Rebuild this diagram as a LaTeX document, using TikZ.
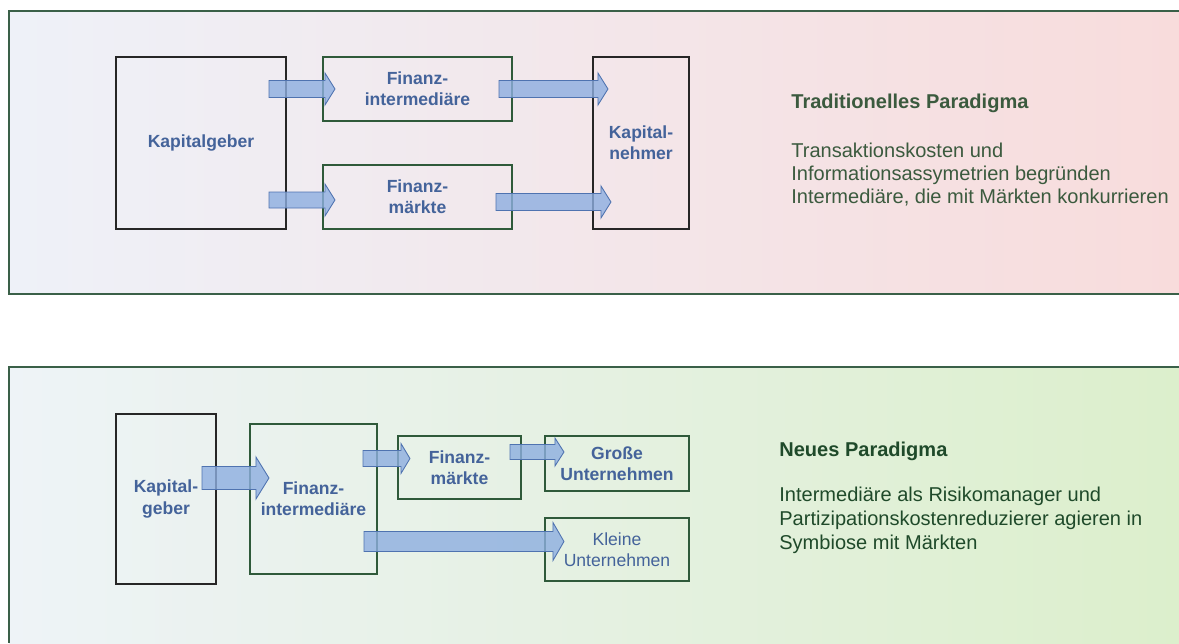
\documentclass[tikz,border=0pt]{standalone}
\usepackage{fontspec}
\setmainfont{Liberation Sans}
\usetikzlibrary{calc}

\definecolor{labelblue}{HTML}{44639A}
\definecolor{boxgreen}{HTML}{2F5A3A}
\definecolor{framegreen}{HTML}{3A6048}
\definecolor{oldtext}{HTML}{3B5A3E}
\definecolor{newtext}{HTML}{1F4A2A}
\definecolor{arrowfill}{HTML}{8DAEE0}
\definecolor{arrowline}{HTML}{4F73B0}
\definecolor{oldleft}{HTML}{EEF1F8}
\definecolor{oldright}{HTML}{F8DCDC}
\definecolor{newleft}{HTML}{EEF3F7}
\definecolor{newright}{HTML}{DCEFCC}

\newlength{\pxu}
\setlength{\pxu}{0.02cm}

% block arrow: from, to, shaft half, head half, head length (pixels)
\newcommand{\flowarrow}[5]{%
  \path[flow] let \p1=#1, \p2=#2 in
    (\x1,\y1+#3*\pxu) -- (\x2-#5*\pxu,\y1+#3*\pxu) -- (\x2-#5*\pxu,\y1+#4*\pxu)
    -- (\x2,\y1) -- (\x2-#5*\pxu,\y1-#4*\pxu) -- (\x2-#5*\pxu,\y1-#3*\pxu)
    -- (\x1,\y1-#3*\pxu) -- cycle;}

\begin{document}
\begin{tikzpicture}[x=0.02cm, y=-0.02cm,
  box/.style={draw=boxgreen, line width=1.2pt, inner sep=0pt, align=center,
    text=labelblue, font=\bfseries\fontsize{10}{12}\selectfont},
  endbox/.style={box, draw=black!85},
  flow/.style={fill=arrowfill, fill opacity=0.8, draw=arrowline, line width=0.5pt}]
\useasboundingbox (0,0) rectangle (1179,643);

% panels
\shade[left color=oldleft, right color=oldright] (9,11) rectangle (1179,294);
\draw[framegreen, line width=0.8pt] (1179,11) -- (9,11) -- (9,294) -- (1179,294);
\shade[left color=newleft, right color=newright] (9,367) rectangle (1179,643);
\draw[framegreen, line width=0.8pt] (1179,367) -- (9,367) -- (9,643);

% traditional paradigm
\node[endbox, minimum width=3.4cm, minimum height=3.44cm] (kg) at (201,143) {Kapitalgeber};
\node[box, minimum width=3.78cm, minimum height=1.28cm] (fi) at (417.5,89) {Finanz-\\intermediäre};
\node[box, minimum width=3.78cm, minimum height=1.28cm] (fm) at (417.5,197) {Finanz-\\märkte};
\node[endbox, minimum width=1.92cm, minimum height=3.44cm] (kn) at (641,143) {Kapital-\\nehmer};

\flowarrow{($(kg.east |- fi.west)+(-18,0)$)}{($(fi.west)+(13,0)$)}{8.5}{16}{10}
\flowarrow{($(kg.east |- fm.west)+(-18,3)$)}{($(fm.west)+(13,3)$)}{8}{16}{10}
\flowarrow{($(fi.east)+(-14,0)$)}{($(kn.west |- fi.east)+(16,0)$)}{8.5}{16}{10}
\flowarrow{($(fm.east)+(-17,5)$)}{($(kn.west |- fm.east)+(19,5)$)}{8.5}{16}{10}

\node[anchor=west, inner sep=0pt, text=oldtext, font=\bfseries\fontsize{11.4}{13.1}\selectfont] (oldtitle) at (791,103) {Traditionelles Paradigma};
\node[anchor=north west, align=left, inner sep=0pt, text=oldtext, font=\fontsize{11.4}{13.1}\selectfont] (oldbody) at (791,143)
  {Transaktionskosten und\\Informationsassymetrien begründen\\Intermediäre, die mit Märkten konkurrieren};

% new paradigm
\node[endbox, minimum width=2.0cm, minimum height=3.4cm] (kg2) at (166,499) {Kapital-\\geber};
\node[box, minimum width=2.54cm, minimum height=3.0cm] (fi2) at (313.5,499) {Finanz-\\intermediäre};
\node[box, minimum width=2.46cm, minimum height=1.26cm] (fm2) at (459.5,467.5) {Finanz-\\märkte};
\node[box, minimum width=2.88cm, minimum height=1.1cm] (gu) at (617,463.5) {Große\\Unternehmen};
\node[box, minimum width=2.88cm, minimum height=1.26cm, font=\fontsize{10}{12}\selectfont] (ku) at (617,549.5) {Kleine\\Unternehmen};

\flowarrow{($(kg2.east)+(-15,-21)$)}{($(fi2.west)+(20,-21)$)}{11.5}{21}{13}
\flowarrow{($(fi2.east |- fm2.west)+(-15,-9)$)}{($(fm2.west)+(13,-9)$)}{8}{15}{9}
\flowarrow{($(fm2.east |- gu.west)+(-12,-11.5)$)}{($(gu.west)+(20,-11.5)$)}{7.5}{14}{9}
\flowarrow{($(fi2.east |- ku.west)+(-14,-8)$)}{($(ku.west)+(20,-8)$)}{10}{19}{11}

\node[anchor=west, inner sep=0pt, text=newtext, font=\bfseries\fontsize{11.4}{13.6}\selectfont] (newtitle) at (779,451) {Neues Paradigma};
\node[anchor=north west, align=left, inner sep=0pt, text=newtext, font=\fontsize{11.4}{13.6}\selectfont] (newbody) at (779,487)
  {Intermediäre als Risikomanager und\\Partizipationskostenreduzierer agieren in\\Symbiose mit Märkten};
\end{tikzpicture}
\end{document}
